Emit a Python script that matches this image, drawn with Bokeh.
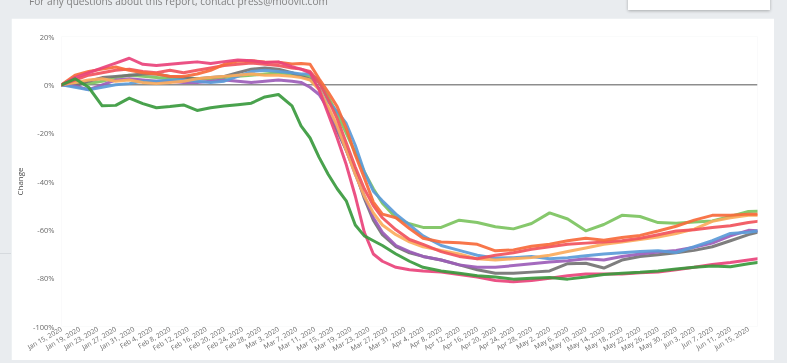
import math
from bokeh.plotting import figure
from bokeh.models import Range1d, FixedTicker, Span, Div, Spacer
from bokeh.layouts import column, row
from bokeh.embed import file_html
from bokeh.resources import INLINE

# ---- data (day index 0 = Jan 15, 2020) ----
days = [0, 3, 6, 9, 12, 15, 18, 21, 24, 27, 30, 33, 36, 39, 42, 45, 48,
        51, 53, 55, 57, 59, 61, 63, 65, 67, 69, 71, 74, 77, 80,
        84, 88, 92, 96, 100, 104, 108, 112, 116, 120, 124, 128, 132, 136,
        140, 144, 148, 152, 154]

dark_green = [0, 2.5, -1, -8.7, -8.5, -5.5, -7.8, -9.5, -9, -8.3, -10.6, -9.5, -8.8, -8.2, -7.6, -5, -4,
              -8.7, -17, -22, -30, -37, -43, -48, -58, -62.5, -64.5, -66.5, -70, -73, -75.5,
              -77, -78, -79, -79.5, -80.4, -80, -79.7, -80.4, -79.5, -78.5, -78, -77.6, -77, -76.2,
              -75.5, -75, -75.3, -74, -73.5]
pink = [0, 3, 5, 7, 9, 11, 8.5, 8, 8.5, 9, 9.5, 8.8, 9.6, 10.3, 10, 9.2, 9.5,
        7.5, 6.5, 5, -2, -12, -22, -33, -46, -61, -70, -73, -75.5, -76.5, -77,
        -77.5, -78.5, -79.5, -81, -81.5, -81, -80, -79, -78.3, -78.3, -78.3, -77.8, -77.5, -76.5,
        -75.5, -74.3, -73.5, -72.5, -72]
orange_red = [0, 4, 5.5, 6.5, 7.4, 6, 5, 4.5, 3.5, 3.5, 4.5, 6, 8.5, 9.8, 10, 9.5, 9.3,
              8.6, 8.8, 8.5, 2.5, -3, -9, -18, -29, -38.5, -48.5, -53.5, -55, -59.5, -63.5,
              -65, -65.3, -66, -68.7, -68.3, -66.8, -66, -64.5, -63.5, -64.3, -63.2, -62.3, -60.5, -58.5,
              -56, -54, -54, -53.5, -53.5]
red = [0, 2, 4, 5, 6, 6.5, 5.5, 5, 6, 5, 6, 7, 8, 8.5, 9, 8.5, 8,
       7, 6.5, 5.5, 1, -6, -14, -24, -34, -43, -50, -55, -60, -64, -66,
       -69, -71, -72, -70.5, -69.5, -68, -67, -66, -65.5, -65, -64.5, -63.5, -62, -60.5,
       -60, -59, -58.3, -57, -56.5]
light_orange = [0, 1, 2, 2.5, 1.5, 2, 1, 0.5, 1, 1.5, 2.5, 3, 3.5, 4, 4.5, 4, 4,
                3.5, 3, 2, -2, -9, -17, -27, -37, -46, -53, -58, -62, -65, -67,
                -68.5, -70, -72, -72.5, -72, -71.5, -70.5, -69, -67.5, -66, -65, -64, -63, -61.5,
                -59.7, -56.5, -55, -54, -54]
blue = [0, -1, -2, -1, 0, 0.5, 1.5, 1.5, 2, 2, 1.5, 1, 1.5, 3.5, 5.5, 6, 5.5,
        5, 4.5, 4.5, 2, -7, -11, -16, -25, -36, -44, -48, -53.5, -58, -62.5,
        -66.5, -68.5, -70.5, -71.7, -71.5, -71, -72, -71.5, -70.7, -70, -69.5, -69, -68.7, -69.4,
        -67, -64.5, -61.5, -61, -60.5]
purple = [0, -0.5, -2, 0, 2, 2.5, 2, 1.5, 1.5, 1, 1, 1.5, 2, 1.5, 1, 1.5, 2,
          1.5, 1, -1, -4, -10, -18, -27, -37, -46, -55, -61, -66.5, -69, -71,
          -72.5, -74.5, -75.5, -75.5, -74.8, -74, -73.3, -72.8, -72, -72.5, -71, -70, -69.2, -68.5,
          -67.2, -65.5, -62.5, -60.2, -60.4]
gray = [0, -0.5, 1.5, 3, 3.5, 4, 4.5, 4.5, 3.5, 3, 2.5, 3, 3.5, 5, 6.5, 7, 6.5,
        5, 3.5, 2.3, -1.5, -10, -19, -27, -36, -47, -56, -62, -67, -69.5, -71,
        -72.5, -74.5, -76.5, -78, -78, -77.5, -77, -74, -73.8, -75.8, -72.5, -71, -70.3, -69.5,
        -68.5, -67, -64.5, -62, -61]
light_green = [0, 1, 0.5, 1.5, 3, 4, 3.5, 3, 2.5, 3, 2.5, 2.5, 3, 3.5, 4, 4.5, 5,
               4.5, 4, 3.5, 1, -5, -12, -20, -28, -36, -43, -49, -55, -57.5, -59,
               -59, -56, -57, -58.7, -59.6, -57.4, -53, -55.5, -60.4, -57.8, -54, -54.5, -57, -57.3,
               -56.8, -56.3, -54.5, -52.4, -52.3]

x_tick_days = list(range(0, 153, 4))
x_tick_labels = ["Jan 15, 2020", "Jan 19, 2020", "Jan 23, 2020", "Jan 27, 2020", "Jan 31, 2020",
                 "Feb 4, 2020", "Feb 8, 2020", "Feb 12, 2020", "Feb 16, 2020", "Feb 20, 2020",
                 "Feb 24, 2020", "Feb 28, 2020", "Mar 3, 2020", "Mar 7, 2020", "Mar 11, 2020",
                 "Mar 15, 2020", "Mar 19, 2020", "Mar 23, 2020", "Mar 27, 2020", "Mar 31, 2020",
                 "Apr 4, 2020", "Apr 8, 2020", "Apr 12, 2020", "Apr 16, 2020", "Apr 20, 2020",
                 "Apr 24, 2020", "Apr 28, 2020", "May 2, 2020", "May 6, 2020", "May 10, 2020",
                 "May 14, 2020", "May 18, 2020", "May 22, 2020", "May 26, 2020", "May 30, 2020",
                 "Jun 3, 2020", "Jun 7, 2020", "Jun 11, 2020", "Jun 15, 2020"]
y_ticks = [-100, -80, -60, -40, -20, 0, 20]
y_tick_labels = ["-100%", "-80%", "-60%", "-40%", "-20%", "0%", "20%"]

series = [
    (light_green, "#7cc360"),
    (gray, "#737373"),
    (purple, "#9c5db8"),
    (blue, "#5b9bd8"),
    (light_orange, "#fbab5c"),
    (red, "#f1525c"),
    (orange_red, "#f76a3b"),
    (pink, "#e9437b"),
    (dark_green, "#3a9a3e"),
]

FONT = "Open Sans"

p = figure(width=763, height=342, x_range=Range1d(0, 154), y_range=Range1d(-100, 20),
           output_backend="svg", toolbar_location=None,
           min_border_left=46, min_border_right=17, min_border_top=18, min_border_bottom=34,
           margin=(0, 0, 0, 0))
p.background_fill_color = "white"
p.border_fill_color = "white"
p.outline_line_color = None
p.grid.visible = False

p.add_layout(Span(location=0, dimension="width", line_color="#555555", line_width=1, level="underlay"))

for vals, col in series:
    p.line(days, vals, line_color=col, line_width=3, line_alpha=0.92,
           line_join="round", line_cap="round")

p.xaxis.ticker = FixedTicker(ticks=x_tick_days)
p.xaxis.major_label_overrides = {d: lab for d, lab in zip(x_tick_days, x_tick_labels)}
p.xaxis.major_label_orientation = math.pi / 6
p.xaxis.major_label_standoff = 2
p.yaxis.ticker = FixedTicker(ticks=y_ticks)
p.yaxis.major_label_overrides = {v: lab for v, lab in zip(y_ticks, y_tick_labels)}
p.yaxis.major_label_standoff = 7
p.yaxis.axis_label = "Change"
p.yaxis.axis_label_standoff = 5
p.yaxis.axis_label_text_font_style = "normal"
p.yaxis.axis_label_text_font_size = "8px"
p.yaxis.axis_label_text_color = "#444444"
p.yaxis.axis_label_text_font = FONT
for ax in (p.xaxis, p.yaxis):
    ax.axis_line_color = None
    ax.major_tick_line_color = None
    ax.minor_tick_line_color = None
    ax.major_tick_out = 0
    ax.major_tick_in = 0
    ax.major_label_text_font = FONT
    ax.major_label_text_color = "#6a6a6a"
p.xaxis.major_label_text_font_size = "6.8px"
p.yaxis.major_label_text_font_size = "7.5px"

header_html = (
    '<div style="position:relative;width:787px;height:18px;">'
    '<div style="position:fixed;left:0;top:0;right:0;bottom:0;background:#e9ecef;z-index:-1;"></div>'
    '<div style="position:absolute;left:29px;top:-4px;font-family:\'Open Sans\';font-size:10.1px;'
    'line-height:10px;color:#808080;white-space:nowrap;">'
    'For any questions about this report, contact press@moovit.com</div>'
    '<div style="position:absolute;left:628px;top:-6px;width:142px;height:16px;background:#ffffff;'
    'box-shadow:0 1px 3px rgba(0,0,0,0.28);"></div>'
    '<div style="position:absolute;left:0px;top:253px;width:11px;height:1px;background:#d6dade;"></div>'
    '</div>'
)
header = Div(text=header_html, width=787, height=18, margin=(0, 0, 0, 0))

layout = column(header, row(Spacer(width=11, height=342, margin=(0, 0, 0, 0)), p, margin=(0, 0, 0, 0)),
                margin=(0, 0, 0, 0))
layout.styles = {"position": "absolute", "left": "0px", "top": "0px"}

open("out.html", "w").write(file_html(layout, INLINE))
